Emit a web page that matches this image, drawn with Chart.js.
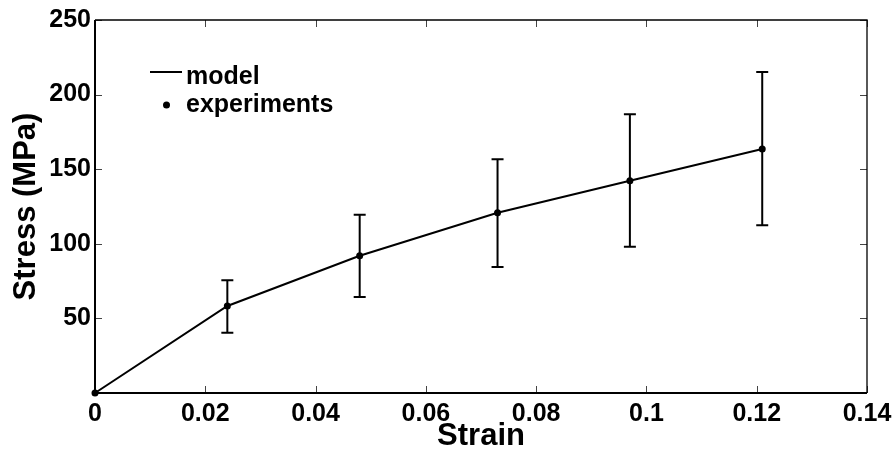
<!DOCTYPE html>
<html>
<head>
<meta charset="utf-8">
<script src="https://cdn.jsdelivr.net/npm/chart.js@4"></script>
<style>
  body { margin: 0; background: #fff; }
  canvas { display: block; }
</style>
</head>
<body>
<canvas id="myChart" width="894" height="454"></canvas>
<script>
// values
const strain = [0, 0.024, 0.048, 0.073, 0.097, 0.121];
const stressModel = [0, 58.3, 92, 120.8, 142.3, 163.5];
const stressExp = [0, 58.3, 92, 120.8, 142.3, 163.5];
const errLow = [0, 40.4, 64.3, 84.4, 98, 112.4];
const errHigh = [0, 75.5, 119.5, 156.6, 186.8, 215.1];
const xTicks = [0, 0.02, 0.04, 0.06, 0.08, 0.1, 0.12, 0.14];
const yTicks = [0, 50, 100, 150, 200, 250];

const fontFamily = "'Liberation Sans', Arial, Helvetica, sans-serif";

let modelData = strain.map((s, i) => ({ x: s, y: stressModel[i] }));
let expData = strain.map((s, i) => ({ x: s, y: stressExp[i] }));

// error bars, inward ticks, box and legend
const extras = {
  id: "extras",
  afterDatasetsDraw(chart) {
    let ctx = chart.ctx;
    let xs = chart.scales.x;
    let ys = chart.scales.y;
    ctx.save();
    ctx.strokeStyle = "#000";
    ctx.lineWidth = 2;
    for (let i = 0; i < strain.length; i++) {
      if (errLow[i] === errHigh[i]) continue;
      let px = xs.getPixelForValue(strain[i]);
      let y1 = ys.getPixelForValue(errLow[i]);
      let y2 = ys.getPixelForValue(errHigh[i]);
      ctx.beginPath();
      ctx.moveTo(px, y1);
      ctx.lineTo(px, y2);
      ctx.moveTo(px - 6, y1);
      ctx.lineTo(px + 6, y1);
      ctx.moveTo(px - 6, y2);
      ctx.lineTo(px + 6, y2);
      ctx.stroke();
    }
    ctx.restore();
  },
  afterDraw(chart) {
    let ctx = chart.ctx;
    let a = chart.chartArea;
    let xs = chart.scales.x;
    let ys = chart.scales.y;
    ctx.save();
    // inward ticks on all four sides
    ctx.strokeStyle = "#444";
    ctx.lineWidth = 1;
    ctx.beginPath();
    xTicks.forEach((v) => {
      let px = Math.round(xs.getPixelForValue(v)) + 0.5;
      ctx.moveTo(px, a.bottom);
      ctx.lineTo(px, a.bottom - 7);
      ctx.moveTo(px, a.top);
      ctx.lineTo(px, a.top + 7);
    });
    yTicks.forEach((v) => {
      let py = Math.round(ys.getPixelForValue(v)) + 0.5;
      ctx.moveTo(a.left, py);
      ctx.lineTo(a.left + 7, py);
      ctx.moveTo(a.right, py);
      ctx.lineTo(a.right - 7, py);
    });
    ctx.stroke();

    // box
    ctx.strokeStyle = "#000";
    ctx.lineWidth = 1.3;
    ctx.beginPath();
    ctx.moveTo(a.left, a.top);
    ctx.lineTo(a.right, a.top);
    ctx.lineTo(a.right, a.bottom);
    ctx.stroke();
    ctx.lineWidth = 2;
    ctx.beginPath();
    ctx.moveTo(a.left, a.top);
    ctx.lineTo(a.left, a.bottom);
    ctx.lineTo(a.right, a.bottom);
    ctx.stroke();

    // legend
    let lx = a.left + 55;
    let ly = a.top + 52;
    ctx.lineWidth = 2;
    ctx.beginPath();
    ctx.moveTo(lx, ly);
    ctx.lineTo(lx + 32, ly);
    ctx.stroke();
    ctx.beginPath();
    ctx.arc(lx + 16.5, ly + 33, 3.5, 0, Math.PI * 2);
    ctx.fillStyle = "#000";
    ctx.fill();
    ctx.font = "bold 25px " + fontFamily;
    ctx.textBaseline = "alphabetic";
    ctx.textAlign = "left";
    ctx.fillText("model", lx + 36, ly + 11.5);
    ctx.fillText("experiments", lx + 36, ly + 39.5);
    ctx.restore();
  },
};

let ctx = document.getElementById("myChart");

let myChart = new Chart(ctx, {
  type: "scatter",
  data: {
    datasets: [
      {
        label: "model",
        data: modelData,
        showLine: true,
        borderColor: "#000",
        borderWidth: 2,
        pointRadius: 0,
        fill: false,
        clip: false,
      },
      {
        label: "experiments",
        data: expData,
        showLine: false,
        backgroundColor: "#000",
        borderColor: "#000",
        pointRadius: 3.5,
        pointBorderWidth: 0,
        clip: false,
      },
    ],
  },
  options: {
    responsive: false,
    animation: false,
    layout: { padding: { top: 20, right: 27, left: 0, bottom: 0 } },
    plugins: {
      legend: { display: false },
      tooltip: { enabled: false },
    },
    scales: {
      x: {
        type: "linear",
        min: 0,
        max: 0.14,
        afterFit: (scale) => {
          scale.height = 61;
          scale.paddingLeft = 0;
          scale.paddingRight = 0;
        },
        afterBuildTicks: (scale) => { scale.ticks = xTicks.map((v) => ({ value: v })); },
        grid: { display: false, drawTicks: false },
        border: { display: false },
        ticks: {
          color: "#000",
          padding: 6,
          maxRotation: 0,
          font: { family: fontFamily, size: 25, weight: "bold" },
          callback: (v) => String(parseFloat(v.toFixed(2))),
        },
        title: {
          display: true,
          text: "Strain",
          color: "#000",
          padding: { top: 0, bottom: -1 },
          font: { family: fontFamily, size: 31, weight: "bold" },
        },
      },
      y: {
        min: 0,
        max: 250,
        afterFit: (scale) => {
          scale.width = 95;
          scale.paddingTop = 0;
          scale.paddingBottom = 0;
        },
        afterBuildTicks: (scale) => { scale.ticks = yTicks.map((v) => ({ value: v })); },
        grid: { display: false, drawTicks: false },
        border: { display: false },
        ticks: {
          color: "#000",
          padding: 4,
          font: { family: fontFamily, size: 25, weight: "bold" },
          callback: (v) => (v === 0 ? "" : String(v)),
        },
        title: {
          display: true,
          text: "Stress (MPa)",
          color: "#000",
          padding: { top: 8, bottom: 0 },
          font: { family: fontFamily, size: 31, weight: "bold" },
        },
      },
    },
  },
  plugins: [extras],
});
</script>
</body>
</html>
